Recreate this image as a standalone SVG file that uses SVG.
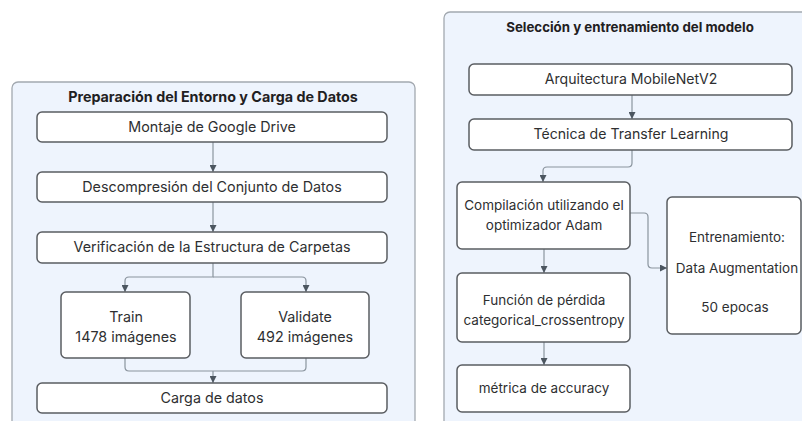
<svg xmlns="http://www.w3.org/2000/svg" width="802" height="421" viewBox="0 0 802 421">
<defs>
<style>
.panel{fill:#eef4fd;stroke:#a3a9b0;stroke-width:1.3}
.box{fill:#ffffff;stroke:#5a5d61;stroke-width:1.5}
.t{font-family:Inter,"Noto Sans",sans-serif;font-size:14.3px;fill:#2e2f31;text-anchor:middle}
.s{font-size:13.5px}
.m{font-size:14.1px}
.h{font-family:Inter,"Noto Sans",sans-serif;font-size:14.3px;font-weight:700;fill:#1f2022;text-anchor:middle}
.hr{font-size:13.3px}
.c{fill:none;stroke:#8a949e;stroke-width:1.2}
</style>
<marker id="ah" viewBox="0 0 8 8" refX="8" refY="4" markerWidth="7" markerHeight="7" markerUnits="userSpaceOnUse" orient="auto">
<path d="M0,0 L8,4 L0,8 Z" fill="#4c5660"/>
</marker>
</defs>
<rect width="802" height="421" fill="#ffffff"/>
<g id="panel-left">
<rect class="panel" x="12" y="82" width="403" height="360" rx="6"/>
<text class="h" x="213" y="102">Preparación del Entorno y Carga de Datos</text>
</g>
<g id="panel-right">
<rect class="panel" x="444" y="12" width="380" height="430" rx="6"/>
<text class="h hr" x="630" y="32">Selección y entrenamiento del modelo</text>
</g>
<g id="connectors">
<path class="c" d="M213,142 V172" marker-end="url(#ah)"/>
<path class="c" d="M213,202 V232" marker-end="url(#ah)"/>
<path class="c" d="M213,263 V277 H129 Q125,277 125,281 V292" marker-end="url(#ah)"/>
<path class="c" d="M213,277 H302 Q306,277 306,281 V292" marker-end="url(#ah)"/>
<path class="c" d="M125,358 V367 Q125,371 129,371 H302 Q306,371 306,367 V358"/>
<path class="c" d="M213,371 V383" marker-end="url(#ah)"/>
<path class="c" d="M632,95 V119" marker-end="url(#ah)"/>
<path class="c" d="M632,150 V163 Q632,167 628,167 H547 Q543,167 543,171 V182" marker-end="url(#ah)"/>
<path class="c" d="M630,213 H644 Q648,213 648,217 V264 Q648,268 652,268 H667" marker-end="url(#ah)"/>
<path class="c" d="M544,249 V273" marker-end="url(#ah)"/>
<path class="c" d="M544,342 V365" marker-end="url(#ah)"/>
</g>
<g id="n-montaje">
<rect class="box" x="37" y="112" width="350" height="30" rx="5"/>
<text class="t" x="212" y="132">Montaje de Google Drive</text>
</g>
<g id="n-descompresion">
<rect class="box" x="37" y="172" width="350" height="30" rx="5"/>
<text class="t" x="212" y="192">Descompresión del Conjunto de Datos</text>
</g>
<g id="n-verificacion">
<rect class="box" x="37" y="232" width="350" height="31" rx="5"/>
<text class="t" x="212" y="252">Verificación de la Estructura de Carpetas</text>
</g>
<g id="n-train">
<rect class="box" x="61" y="292" width="129" height="66" rx="5"/>
<text class="t" x="126" y="322">Train</text>
<text class="t" x="126" y="342">1478 imágenes</text>
</g>
<g id="n-validate">
<rect class="box" x="241" y="292" width="128" height="66" rx="5"/>
<text class="t" x="305" y="322">Validate</text>
<text class="t" x="305" y="342">492 imágenes</text>
</g>
<g id="n-carga">
<rect class="box" x="37" y="383" width="350" height="30" rx="5"/>
<text class="t" x="212" y="403">Carga de datos</text>
</g>
<g id="n-arquitectura">
<rect class="box" x="469" y="64" width="323" height="31" rx="5"/>
<text class="t m" x="631" y="84">Arquitectura MobileNetV2</text>
</g>
<g id="n-tecnica">
<rect class="box" x="469" y="119" width="323" height="31" rx="5"/>
<text class="t m" x="631" y="139">Técnica de Transfer Learning</text>
</g>
<g id="n-compilacion">
<rect class="box" x="457" y="182" width="173" height="67" rx="5"/>
<text class="t s" x="544" y="210">Compilación utilizando el</text>
<text class="t s" x="544" y="230">optimizador Adam</text>
</g>
<g id="n-entrenamiento">
<rect class="box" x="667" y="197" width="134" height="137" rx="5"/>
<text class="t s" x="737" y="242">Entrenamiento:</text>
<text class="t s" x="737" y="273">Data Augmentation</text>
<text class="t s" x="735" y="312">50 epocas</text>
</g>
<g id="n-funcion">
<rect class="box" x="457" y="273" width="173" height="69" rx="5"/>
<text class="t s" x="544" y="305">Función de pérdida</text>
<text class="t s" x="544" y="325">categorical_crossentropy</text>
</g>
<g id="n-metrica">
<rect class="box" x="457" y="365" width="173" height="47" rx="5"/>
<text class="t s" x="544" y="393">métrica de accuracy</text>
</g>
</svg>
